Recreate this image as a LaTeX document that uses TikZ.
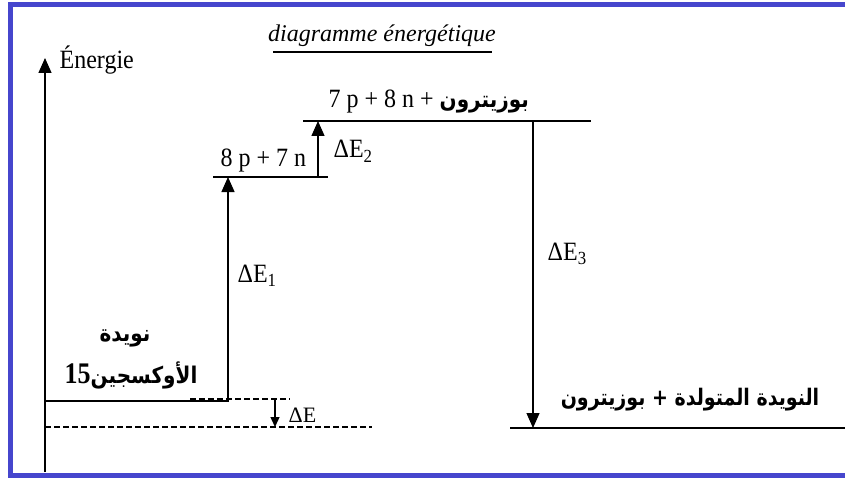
\documentclass[tikz,border=0pt]{standalone}
\usepackage{fontspec}
\setmainfont{Liberation Serif}
\newfontfamily\arabicfont[Script=Arabic]{DejaVu Sans}
\TeXXeTstate=1
\usetikzlibrary{arrows.meta}
\definecolor{frameblue}{RGB}{70,70,205}
\begin{document}
\begin{tikzpicture}[x=1pt,y=-1pt,line width=1.3pt,
  frame/.style={draw=frameblue,line width=5pt},
  level/.style={draw,line width=1.3pt},
  dline/.style={draw,line width=1.1pt,dash pattern=on 6pt off 3pt},
  bigarrow/.style={draw,line width=1.3pt,-{Triangle[width=13pt,length=15pt]}},
  smallarrow/.style={draw,line width=1.3pt,-{Triangle[width=9pt,length=10pt]}},
  lab/.style={font=\fontsize{24}{26}\selectfont,inner sep=0pt},
  arlab/.style={font=\fontsize{20}{24}\selectfont\bfseries,inner sep=0pt}]
\useasboundingbox (0,0) rectangle (845,481);
% frame
\draw[frame] (845,5) -- (10.5,5) -- (10.5,475) -- (845,475);
% title
\node[lab,font=\fontsize{24}{26}\selectfont\itshape,anchor=base] (title) at (382,42) {diagramme énergétique};
\coordinate (ul1) at (273,52);
\coordinate (ul2) at (492,52);
\draw[line width=1.5pt] (ul1) -- (ul2);
% axis
\coordinate (axb) at (45,472);
\coordinate (axt) at (45,58);
\draw[bigarrow] (axb) -- (axt);
\node[lab,anchor=base west] (energie) at (59,69) {\scalebox{1}[1.1]{Énergie}};
% levels
\coordinate (o1) at (45,401);
\coordinate (o2) at (229,401);
\draw[level] (o1) -- (o2);
\coordinate (od1) at (190,399);
\coordinate (od2) at (290,399);
\draw[dline] (od1) -- (od2);
\coordinate (ld1) at (45,427);
\coordinate (ld2) at (372,427);
\draw[dline] (ld1) -- (ld2);
\coordinate (n1) at (213,177);
\coordinate (n2) at (328,177);
\draw[level] (n1) -- (n2);
\coordinate (t1) at (303,121);
\coordinate (t2) at (591,121);
\draw[level] (t1) -- (t2);
\coordinate (b1) at (510,428);
\coordinate (b2) at (845,428);
\draw[level] (b1) -- (b2);
% arrows
\coordinate (a1s) at (228,401);
\coordinate (a1e) at (228,177);
\draw[bigarrow] (a1s) -- (a1e);
\coordinate (a2s) at (318,177);
\coordinate (a2e) at (318,121);
\draw[bigarrow] (a2s) -- (a2e);
\coordinate (a3s) at (533,121);
\coordinate (a3e) at (533,428);
\draw[bigarrow] (a3s) -- (a3e);
\coordinate (a0s) at (275,399);
\coordinate (a0e) at (275,427);
\draw[smallarrow] (a0s) -- (a0e);
% labels
\node[lab,anchor=base west] (l8p) at (220,167) {\scalebox{1}[1.1]{8 p + 7 n}};
\node[lab,anchor=base west] (l7p) at (328,108) {\scalebox{1}[1.1]{7 p + 8 n + }{\arabicfont\bfseries\fontsize{20}{24}\selectfont\scalebox{1}[1.15]{\beginR بوزيترون\endR}}};
\node[lab,anchor=base west] (dE1) at (237,282) {\scalebox{1}[1.1]{ΔE\textsubscript{1}}};
\node[lab,anchor=base west] (dE2) at (333,158) {\scalebox{1}[1.1]{ΔE\textsubscript{2}}};
\node[lab,anchor=base west] (dE3) at (547,260) {\scalebox{1}[1.1]{ΔE\textsubscript{3}}};
\node[lab,font=\fontsize{22}{24}\selectfont,anchor=base west] (dE) at (288,422) {ΔE};
\node[arlab] (nuc1) at (125,338) {\scalebox{1}[1.15]{\arabicfont\beginR نويدة\endR}};
\node[arlab] (nuc2) at (131,375) {\scalebox{1}[1.15]{{\fontsize{26}{28}\selectfont 15}{\arabicfont\beginR الأوكسجين\endR}}};
\node[arlab,font=\fontsize{19}{24}\selectfont\bfseries] (prod) at (690,400) {\scalebox{1}[1.2]{\arabicfont\beginR النويدة المتولدة + بوزيترون\endR}};
\end{tikzpicture}
\end{document}
